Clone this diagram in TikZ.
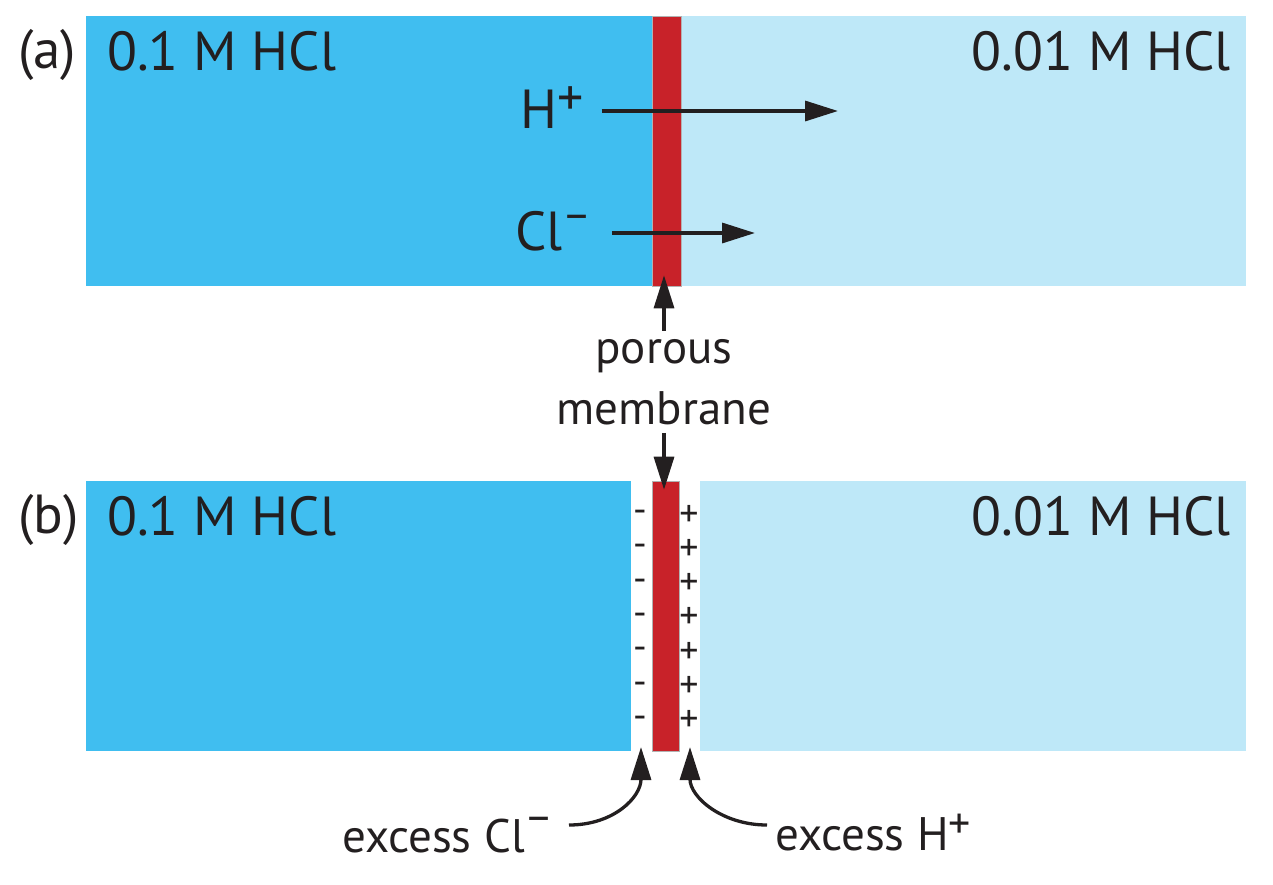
\documentclass[tikz,border=0pt]{standalone}
\usepackage{fontspec}
\setmainfont{PT Sans}
\usetikzlibrary{arrows.meta}

\definecolor{strongacid}{RGB}{64,190,240}
\definecolor{weakacid}{RGB}{190,232,248}
\definecolor{membred}{RGB}{200,34,41}
\definecolor{ink}{RGB}{35,31,32}

% raised charge sign: raise, size, sign
\newcommand{\chg}[3]{\raisebox{#1}{\fontsize{#2}{#2}\selectfont #3}}

\begin{document}
\begin{tikzpicture}[x=1pt, y=-1pt,
  every node/.style = {text=ink, inner sep=0pt},
  big/.style = {font=\fontsize{55}{66}\selectfont},
  small/.style = {font=\fontsize{47}{61}\selectfont},
  signs/.style = {font=\fontsize{#1}{34.3}\selectfont, align=center, anchor=base},
  membrane/.style = {fill=membred, draw=gray!60, line width=0.6pt,
    minimum height=270pt},
  flow/.style = {draw=ink, line width=3.3pt,
    -{Triangle[length=33pt,width=20pt]}}
]
  \useasboundingbox (0,0) rectangle (1273,884);

  % (a) ions crossing the membrane
  \fill[strongacid] (86,16) rectangle (652,286);
  \fill[weakacid] (681,16) rectangle (1246,286);
  \node[membrane, minimum width=29pt] (mema) at (666.5,151) {};

  \node[big, anchor=base west] (taga) at (18,68) {(a)};
  \node[big, anchor=base west] (lefta) at (107,70) {0.1 M HCl};
  \node[big, anchor=base east] (righta) at (1231,70) {0.01 M HCl};

  \node[big, anchor=base west] (hion) at (520,128) {H\chg{13pt}{52pt}{+}};
  \node[big, anchor=base west] (clion) at (515,250) {Cl\chg{21pt}{44pt}{\textendash}};
  \coordinate (hend) at (838,111);
  \coordinate (clend) at (755,233);
  \draw[flow, shorten <=18pt] (hion.east |- hend) -- (hend);
  \draw[flow, shorten <=20pt] (clion.east |- clend) -- (clend);

  % (b) charge separation at the membrane
  \fill[strongacid] (86,481) rectangle (631,751);
  \fill[weakacid] (700,481) rectangle (1246,751);
  \node[membrane, minimum width=27pt] (memb) at (665.5,616) {};

  \node[big, anchor=base west] (tagb) at (18,533) {(b)};
  \node[big, anchor=base west] (leftb) at (107,535) {0.1 M HCl};
  \node[big, anchor=base east] (rightb) at (1231,535) {0.01 M HCl};

  \node[signs=38pt] (minuses) at (640,728.3) {-\\-\\-\\-\\-\\-\\-};
  \node[signs=38pt] (pluses) at (689,731.8) {+\\+\\+\\+\\+\\+\\+};

  % label between the panels
  \node[small, align=center, anchor=base] (porous) at (664,424) {porous\\membrane};
  \draw[flow, shorten <=8pt] (porous.north) -- ([yshift=11pt]porous.north |- mema.south);
  \draw[flow, shorten <=8pt] (porous.south) -- ([yshift=-9pt]porous.south |- memb.north);

  % excess charges
  \node[small, anchor=base west] (xscl) at (342,852) {excess Cl\chg{21pt}{44pt}{\textendash}};
  \node[small, anchor=base west] (xsh) at (775,850) {excess H\chg{12pt}{44pt}{+}};
  \coordinate (cltip) at (641,747);
  \coordinate (htip) at (690,747);
  \draw[flow] ([shift={(15pt,27pt)}]xscl.base east)
    .. controls +(45pt,0pt) and +(0pt,-50pt) .. (cltip);
  \draw[flow] ([shift={(-8pt,25pt)}]xsh.base west)
    .. controls +(-45pt,0pt) and +(0pt,-50pt) .. (htip);

\end{tikzpicture}
\end{document}
